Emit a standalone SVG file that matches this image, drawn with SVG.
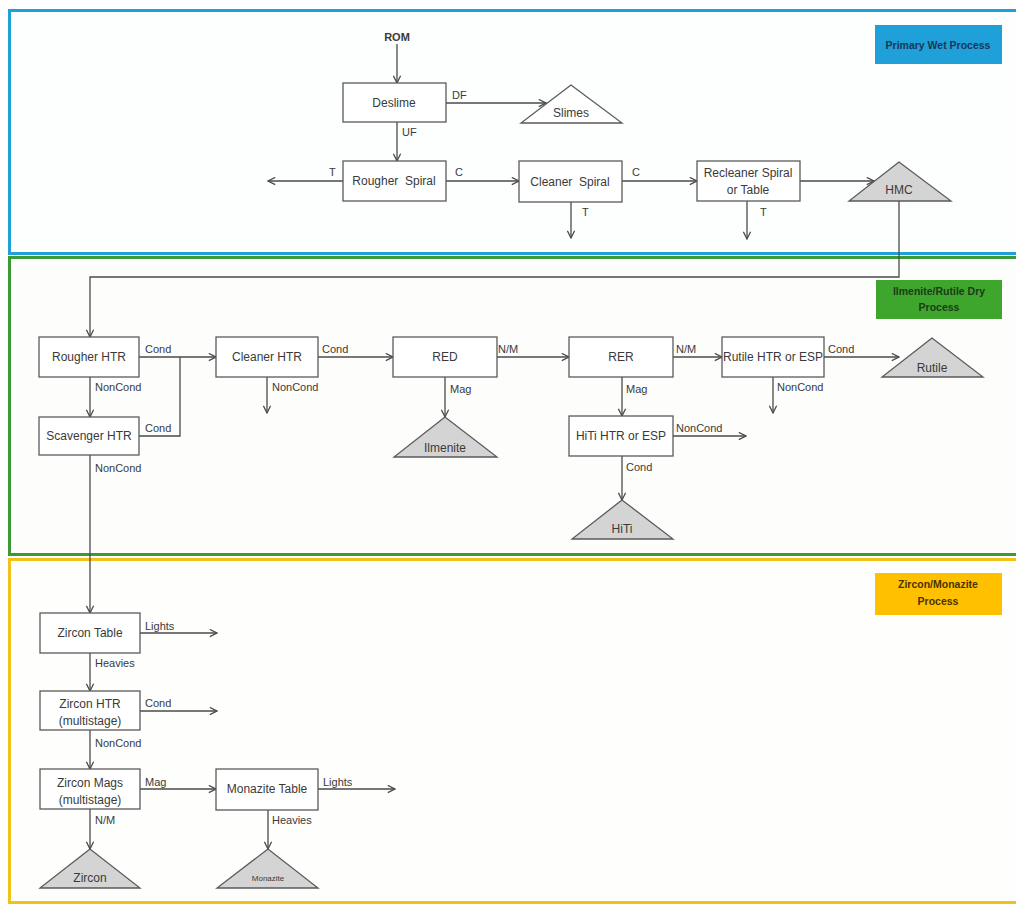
<svg xmlns="http://www.w3.org/2000/svg" width="1016" height="907" viewBox="0 0 1016 907">
  <style>
    .box { fill: #ffffff; stroke: #5a5a5a; stroke-width: 1.3; }
    .pile { fill: #d4d4d4; stroke: #5a5a5a; stroke-width: 1.3; }
    .pile-open { fill: #ffffff; stroke: #5a5a5a; stroke-width: 1.3; }
    .t { font-family: "Liberation Sans", Arial, sans-serif; font-size: 12px; fill: #3a3a3a; text-anchor: middle; }
    .small { font-size: 8px; }
    .lbl { font-family: "Liberation Sans", Arial, sans-serif; font-size: 11px; fill: #3a3a3a; }
    .tag { font-family: "Liberation Sans", Arial, sans-serif; font-size: 10.5px; font-weight: bold; text-anchor: middle; }
    .flow { fill: none; stroke: #4a4a4a; stroke-width: 1.3; }
    .arr { marker-end: url(#head); }
  </style>
  <defs>
    <marker id="head" viewBox="0 0 10 10" refX="9" refY="5" markerWidth="9" markerHeight="9" markerUnits="userSpaceOnUse" orient="auto">
      <path d="M1,1 L9,5 L1,9" fill="none" stroke="#4a4a4a" stroke-width="1.4"/>
    </marker>
  </defs>

  <rect width="1016" height="907" fill="#ffffff"/>

  <!-- process areas -->
  <g id="areas">
    <rect x="9.5" y="10.5" width="1020" height="243" fill="#fdfefe" stroke="#1fa0d8" stroke-width="3"/>
    <rect x="9.5" y="257.5" width="1020" height="297" fill="#fdfefc" stroke="#3c9a36" stroke-width="3"/>
    <rect x="9.5" y="559.5" width="1020" height="343" fill="#fefefc" stroke="#f2c21a" stroke-width="3"/>
  </g>

  <g id="tag-wet">
    <rect x="875" y="25" width="127" height="39" fill="#1fa0d8"/>
    <text class="tag" x="938" y="49" fill="#1c3557">Primary Wet Process</text>
  </g>
  <g id="tag-dry">
    <rect x="876" y="280" width="126" height="39" fill="#3ea52d"/>
    <text class="tag" x="939" y="295" fill="#1d3a1a">Ilmenite/Rutile Dry</text>
    <text class="tag" x="939" y="311" fill="#1d3a1a">Process</text>
  </g>
  <g id="tag-zircon">
    <rect x="875" y="573" width="127" height="42" fill="#ffc000"/>
    <text class="tag" x="938" y="588" fill="#4a3300">Zircon/Monazite</text>
    <text class="tag" x="938" y="605" fill="#4a3300">Process</text>
  </g>

  <!-- connectors -->
  <g id="connectors">
    <line class="flow arr" x1="397" y1="44" x2="397" y2="83"/>
    <line class="flow arr" x1="446" y1="103" x2="546" y2="103"/>
    <line class="flow arr" x1="397" y1="122" x2="397" y2="161"/>
    <line class="flow arr" x1="343" y1="181" x2="268" y2="181"/>
    <line class="flow arr" x1="446" y1="181" x2="519" y2="181"/>
    <line class="flow arr" x1="571" y1="202" x2="571" y2="238"/>
    <line class="flow arr" x1="622" y1="181" x2="697" y2="181"/>
    <line class="flow arr" x1="747" y1="201" x2="747" y2="239"/>
    <line class="flow arr" x1="800" y1="181" x2="874" y2="181"/>
    <polyline class="flow arr" points="899,201 899,277 90,277 90,337"/>
    <line class="flow arr" x1="139" y1="357" x2="216" y2="357"/>
    <polyline class="flow" points="139,436 180,436 180,357"/>
    <line class="flow arr" x1="90" y1="377" x2="90" y2="417"/>
    <line class="flow arr" x1="267" y1="377" x2="267" y2="413"/>
    <line class="flow arr" x1="318" y1="357" x2="393" y2="357"/>
    <line class="flow arr" x1="497" y1="357" x2="569" y2="357"/>
    <line class="flow arr" x1="445" y1="377" x2="445" y2="417"/>
    <line class="flow arr" x1="673" y1="357" x2="722" y2="357"/>
    <line class="flow arr" x1="622" y1="377" x2="622" y2="416"/>
    <line class="flow arr" x1="673" y1="436" x2="746" y2="436"/>
    <line class="flow arr" x1="622" y1="456" x2="622" y2="500"/>
    <line class="flow arr" x1="824" y1="357" x2="899" y2="357"/>
    <line class="flow arr" x1="773" y1="377" x2="773" y2="413"/>
    <line class="flow arr" x1="90" y1="455" x2="90" y2="613"/>
    <line class="flow arr" x1="140" y1="633" x2="217" y2="633"/>
    <line class="flow arr" x1="90" y1="653" x2="90" y2="691"/>
    <line class="flow arr" x1="140" y1="711" x2="217" y2="711"/>
    <line class="flow arr" x1="90" y1="730" x2="90" y2="769"/>
    <line class="flow arr" x1="140" y1="789" x2="216" y2="789"/>
    <line class="flow arr" x1="318" y1="789" x2="395" y2="789"/>
    <line class="flow arr" x1="90" y1="809" x2="90" y2="849"/>
    <line class="flow arr" x1="268" y1="810" x2="268" y2="849"/>
  </g>

  <!-- stream labels -->
  <g id="stream-labels" class="lbl">
    <text x="397" y="41" text-anchor="middle" font-weight="bold" font-size="11">ROM</text>
    <text x="452" y="99">DF</text>
    <text x="402" y="136">UF</text>
    <text x="329" y="176">T</text>
    <text x="455" y="176">C</text>
    <text x="582" y="216">T</text>
    <text x="632" y="176">C</text>
    <text x="760" y="216">T</text>
    <text x="145" y="353">Cond</text>
    <text x="95" y="391">NonCond</text>
    <text x="145" y="432">Cond</text>
    <text x="95" y="472">NonCond</text>
    <text x="322" y="353">Cond</text>
    <text x="272" y="391">NonCond</text>
    <text x="498" y="353">N/M</text>
    <text x="450" y="393">Mag</text>
    <text x="676" y="353">N/M</text>
    <text x="626" y="393">Mag</text>
    <text x="676" y="432">NonCond</text>
    <text x="626" y="471">Cond</text>
    <text x="828" y="353">Cond</text>
    <text x="777" y="391">NonCond</text>
    <text x="145" y="630">Lights</text>
    <text x="95" y="667">Heavies</text>
    <text x="145" y="707">Cond</text>
    <text x="95" y="747">NonCond</text>
    <text x="145" y="786">Mag</text>
    <text x="323" y="786">Lights</text>
    <text x="95" y="824">N/M</text>
    <text x="272" y="824">Heavies</text>
  </g>

  <!-- primary wet process -->
  <g id="deslime">
    <rect class="box" x="343" y="83" width="103" height="39"/>
    <text class="t" x="394" y="107">Deslime</text>
  </g>
  <g id="slimes">
    <polygon class="pile-open" points="571,85 521,123 622,123"/>
    <text class="t" x="571" y="117">Slimes</text>
  </g>
  <g id="rougher-spiral">
    <rect class="box" x="343" y="161" width="103" height="40"/>
    <text class="t" x="394" y="185" xml:space="preserve">Rougher  Spiral</text>
  </g>
  <g id="cleaner-spiral">
    <rect class="box" x="519" y="161" width="103" height="41"/>
    <text class="t" x="570" y="186" xml:space="preserve">Cleaner  Spiral</text>
  </g>
  <g id="recleaner">
    <rect class="box" x="697" y="161" width="103" height="40"/>
    <text class="t" x="748" y="177">Recleaner Spiral</text>
    <text class="t" x="748" y="194">or Table</text>
  </g>
  <g id="hmc">
    <polygon class="pile" points="899,162 849,201 951,201"/>
    <text class="t" x="899" y="194">HMC</text>
  </g>

  <!-- ilmenite / rutile dry process -->
  <g id="rougher-htr">
    <rect class="box" x="39" y="337" width="100" height="40"/>
    <text class="t" x="89" y="361">Rougher HTR</text>
  </g>
  <g id="scavenger-htr">
    <rect class="box" x="39" y="417" width="100" height="38"/>
    <text class="t" x="89" y="440">Scavenger HTR</text>
  </g>
  <g id="cleaner-htr">
    <rect class="box" x="216" y="337" width="102" height="40"/>
    <text class="t" x="267" y="361">Cleaner HTR</text>
  </g>
  <g id="red">
    <rect class="box" x="393" y="337" width="104" height="40"/>
    <text class="t" x="445" y="361">RED</text>
  </g>
  <g id="ilmenite">
    <polygon class="pile" points="445,417 394,457 497,457"/>
    <text class="t" x="445" y="452">Ilmenite</text>
  </g>
  <g id="rer">
    <rect class="box" x="569" y="337" width="104" height="40"/>
    <text class="t" x="621" y="361">RER</text>
  </g>
  <g id="hiti-htr">
    <rect class="box" x="569" y="416" width="104" height="40"/>
    <text class="t" x="621" y="440">HiTi HTR or ESP</text>
  </g>
  <g id="hiti">
    <polygon class="pile" points="622,500 572,539 673,539"/>
    <text class="t" x="622" y="533">HiTi</text>
  </g>
  <g id="rutile-htr">
    <rect class="box" x="722" y="337" width="102" height="40"/>
    <text class="t" x="773" y="361" textLength="100" lengthAdjust="spacingAndGlyphs">Rutile HTR or ESP</text>
  </g>
  <g id="rutile">
    <polygon class="pile" points="932,338 882,377 983,377"/>
    <text class="t" x="932" y="372">Rutile</text>
  </g>

  <!-- zircon / monazite process -->
  <g id="zircon-table">
    <rect class="box" x="40" y="613" width="100" height="40"/>
    <text class="t" x="90" y="637">Zircon Table</text>
  </g>
  <g id="zircon-htr">
    <rect class="box" x="40" y="691" width="100" height="39"/>
    <text class="t" x="90" y="708">Zircon HTR</text>
    <text class="t" x="90" y="725">(multistage)</text>
  </g>
  <g id="zircon-mags">
    <rect class="box" x="40" y="769" width="100" height="40"/>
    <text class="t" x="90" y="787">Zircon Mags</text>
    <text class="t" x="90" y="804">(multistage)</text>
  </g>
  <g id="zircon">
    <polygon class="pile" points="90,849 40,888 140,888"/>
    <text class="t" x="90" y="882">Zircon</text>
  </g>
  <g id="monazite-table">
    <rect class="box" x="216" y="769" width="102" height="41"/>
    <text class="t" x="267" y="793">Monazite Table</text>
  </g>
  <g id="monazite">
    <polygon class="pile" points="268,849 217,888 318,888"/>
    <text class="t small" x="268" y="881">Monazite</text>
  </g>
</svg>
